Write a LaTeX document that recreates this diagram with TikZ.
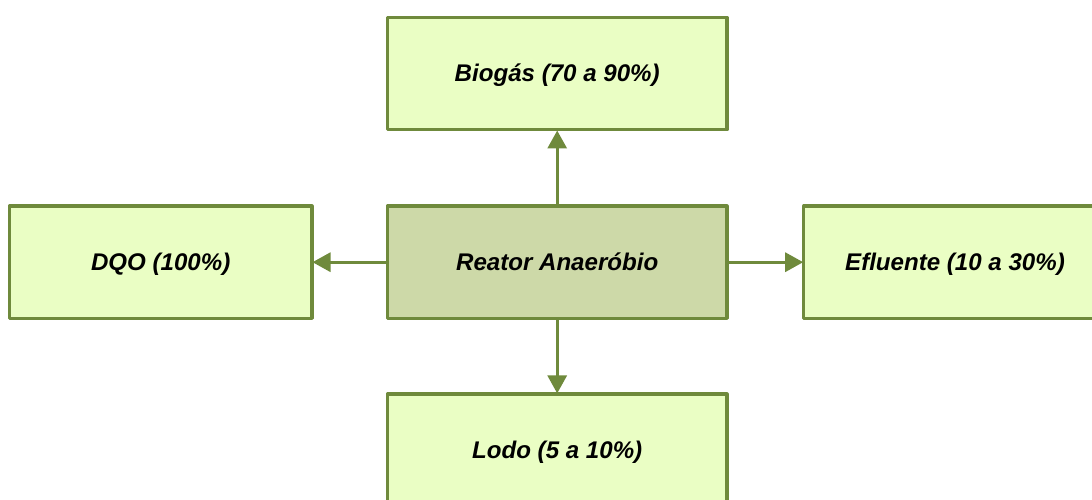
\documentclass[tikz,border=0pt]{standalone}
\usepackage{fontspec}
\setmainfont{Liberation Sans}
\usetikzlibrary{arrows.meta}
\definecolor{edgegreen}{HTML}{6F8A3C}
\definecolor{lightfill}{HTML}{EAFEC4}
\definecolor{darkfill}{HTML}{CDD9A8}
\tikzset{
  flowbox/.style={draw=edgegreen,line width=3.1pt,line join=round,fill=lightfill,inner sep=0pt,
    minimum height=112.5pt,text height=20pt,text depth=4pt,
    font=\fontsize{24.1pt}{26pt}\selectfont\bfseries\itshape,text=black},
  wideflow/.style={flowbox,minimum width=339.5pt},
  sideflow/.style={flowbox,minimum width=302.5pt},
  flowarrow/.style={draw=edgegreen,line width=3.1pt,-{Triangle[length=18pt,width=19pt,color=edgegreen]},shorten >=-1pt}
}
\begin{document}
\begin{tikzpicture}[x=1pt,y=-1pt]
\useasboundingbox (0,0) rectangle (1092,500);
\clip (0,0) rectangle (1092,500);
\node[wideflow,fill=darkfill] (reator) at (557.2,262.2) {Reator Anaeróbio};
\node[wideflow] (biogas) at (557.2,73.7) {Biogás (70 a 90\%)};
\node[wideflow] (lodo) at (557.2,450.2) {Lodo (5 a 10\%)};
\node[sideflow] (dqo) at (160.7,262.2) {DQO (100\%)};
\node[sideflow] (efluente) at (955,262.2) {Efluente (10 a 30\%)};
\draw[flowarrow] (reator.north) -- (biogas.south);
\draw[flowarrow] (reator.south) -- (lodo.north);
\draw[flowarrow] (reator.west) -- (dqo.east);
\draw[flowarrow] (reator.east) -- (efluente.west);
\end{tikzpicture}
\end{document}
